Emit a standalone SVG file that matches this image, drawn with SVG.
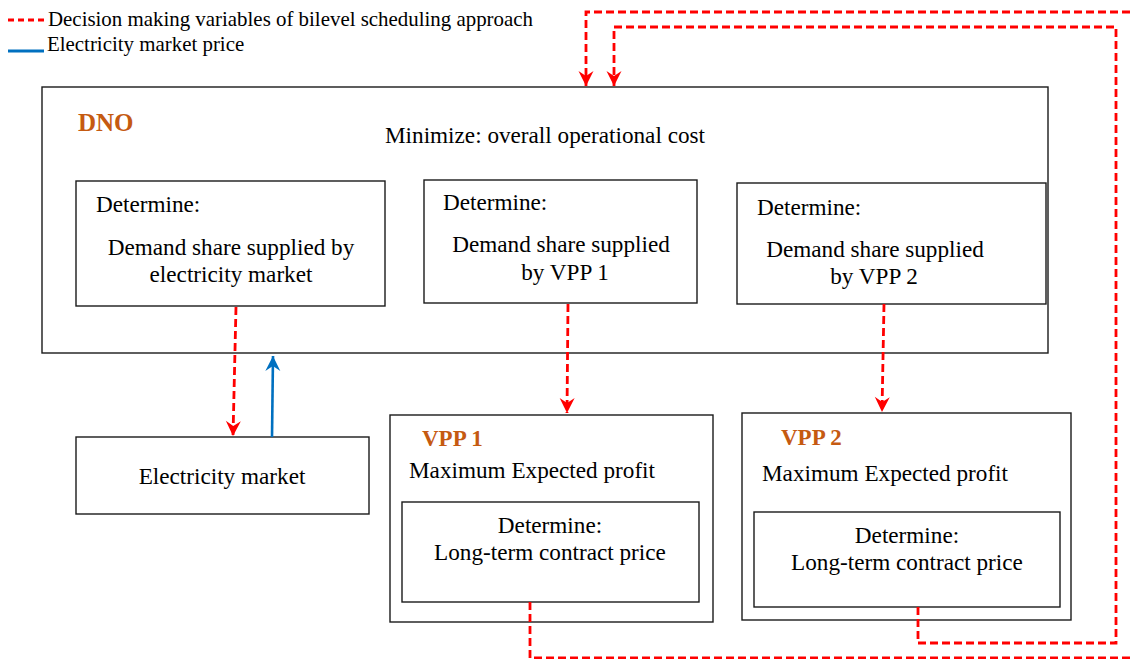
<svg xmlns="http://www.w3.org/2000/svg" width="1134" height="659" viewBox="0 0 1134 659">
<style>
.box{fill:#fff;stroke:#1a1a1a;stroke-width:1.4}
.t{font-family:"Liberation Serif","Times New Roman",serif;font-size:23.2px;fill:#000}
.c{text-anchor:middle}
.lg{font-family:"Liberation Serif","Times New Roman",serif;font-size:20.9px;fill:#000}
.hd{font-family:"Liberation Serif","Times New Roman",serif;font-weight:bold;fill:#C55A11}
.red{fill:none;stroke:#FF0000;stroke-width:2.8;stroke-dasharray:8 4}
.blue{fill:none;stroke:#0070C0;stroke-width:2.6}
</style>
<defs>
<marker id="ar" markerUnits="userSpaceOnUse" markerWidth="18" markerHeight="18" viewBox="-16 -9 18 18" refX="0" refY="0" orient="auto">
<path d="M-15,-7.5 L0,0 L-15,7.5 L-10,0 Z" fill="#FF0000"/>
</marker>
<marker id="ab" markerUnits="userSpaceOnUse" markerWidth="18" markerHeight="18" viewBox="-16 -9 18 18" refX="0" refY="0" orient="auto">
<path d="M-15,-7.5 L0,0 L-15,7.5 L-10,0 Z" fill="#0070C0"/>
</marker>
</defs>

<g id="legend">
<line x1="8" y1="20" x2="44" y2="20" stroke="#FF0000" stroke-width="2.8" stroke-dasharray="6 4"/>
<text class="lg" x="48" y="26">Decision making variables of bilevel scheduling approach</text>
<line x1="8" y1="51" x2="44" y2="51" stroke="#0070C0" stroke-width="3"/>
<text class="lg" x="47" y="51">Electricity market price</text>
</g>

<g id="dno">
<rect class="box" x="42" y="87" width="1006" height="266"/>
<text class="hd" x="78" y="131" font-size="25">DNO</text>
<text class="t c" x="545" y="143">Minimize: overall operational cost</text>
</g>

<g id="det-market">
<rect class="box" x="76" y="181" width="309" height="125"/>
<text class="t" x="96" y="212">Determine:</text>
<text class="t c" x="231" y="255">Demand share supplied by</text>
<text class="t c" x="231" y="282">electricity market</text>
</g>

<g id="det-vpp1">
<rect class="box" x="424" y="180" width="273" height="123"/>
<text class="t" x="443" y="210">Determine:</text>
<text class="t c" x="561" y="252">Demand share supplied</text>
<text class="t c" x="565" y="280">by VPP 1</text>
</g>

<g id="det-vpp2">
<rect class="box" x="737" y="183" width="309" height="121"/>
<text class="t" x="757" y="215">Determine:</text>
<text class="t c" x="875" y="257">Demand share supplied</text>
<text class="t c" x="874" y="284">by VPP 2</text>
</g>

<g id="market">
<rect class="box" x="76" y="437" width="293" height="77"/>
<text class="t c" x="222" y="484">Electricity market</text>
</g>

<g id="vpp1">
<rect class="box" x="390" y="415" width="323" height="207"/>
<text class="hd" x="422" y="446" font-size="23">VPP 1</text>
<text class="t" x="409" y="478">Maximum Expected profit</text>
<rect class="box" x="402" y="502" width="297" height="100"/>
<text class="t c" x="550" y="533">Determine:</text>
<text class="t c" x="550" y="560">Long-term contract price</text>
</g>

<g id="vpp2">
<rect class="box" x="742" y="413" width="329" height="207"/>
<text class="hd" x="781" y="445" font-size="23">VPP 2</text>
<text class="t" x="762" y="481">Maximum Expected profit</text>
<rect class="box" x="754" y="512" width="306" height="95"/>
<text class="t c" x="907" y="543">Determine:</text>
<text class="t c" x="907" y="570">Long-term contract price</text>
</g>

<g id="connectors">
<path class="red" d="M236,307 L233,436" marker-end="url(#ar)"/>
<path class="blue" d="M272,437 L273,356" marker-end="url(#ab)"/>
<path class="red" d="M568,304 L567,413" marker-end="url(#ar)"/>
<path class="red" d="M884,304 L882,412" marker-end="url(#ar)"/>
<path class="red" d="M530,602 V658 H1145 V12 H586 V86" marker-end="url(#ar)"/>
<path class="red" d="M918,607 V643 H1116 V27 H614 V86" marker-end="url(#ar)"/>
</g>
</svg>
